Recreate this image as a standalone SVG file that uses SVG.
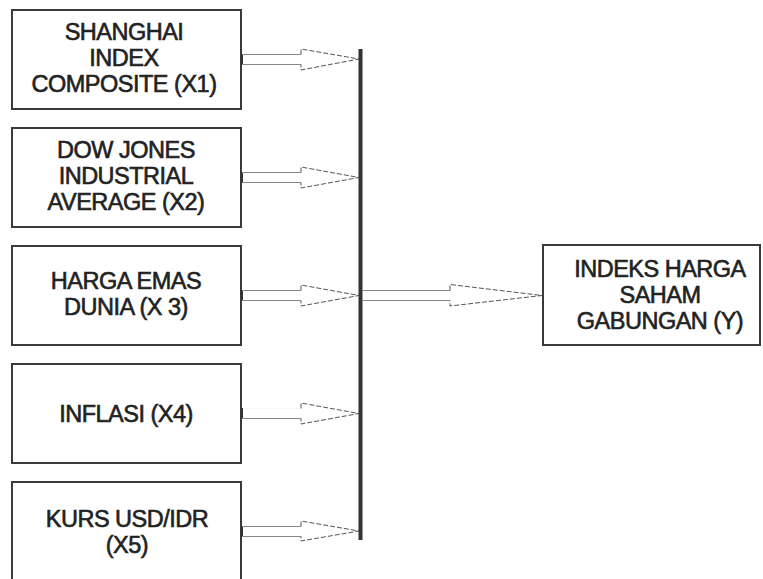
<svg xmlns="http://www.w3.org/2000/svg" width="763" height="579" viewBox="0 0 763 579">
<style>
.box{fill:#fff;stroke:#3a3a3a;stroke-width:2}
.lbl{font-family:"Liberation Sans",Arial,sans-serif;font-size:23.5px;fill:#222;stroke:#222;stroke-width:0.6px;text-anchor:middle;letter-spacing:-0.5px}
.shaft{stroke:#888;stroke-width:1;fill:none}
.head{stroke:#555;stroke-width:1;fill:none;stroke-dasharray:5 2}
.tick{fill:#333}
</style>
<rect width="763" height="579" fill="#fff"/>
<g id="x1">
<rect class="box" x="12" y="10" width="229" height="99"/>
<text class="lbl" x="124" y="39.5">SHANGHAI</text>
<text class="lbl" x="124" y="65.5">INDEX</text>
<text class="lbl" x="124" y="91.5">COMPOSITE (X1)</text>
</g>
<g id="x2">
<rect class="box" x="12" y="128" width="229" height="99"/>
<text class="lbl" x="126" y="157.5">DOW JONES</text>
<text class="lbl" x="126" y="183.5">INDUSTRIAL</text>
<text class="lbl" x="126" y="209.5">AVERAGE (X2)</text>
</g>
<g id="x3">
<rect class="box" x="12" y="246" width="229" height="99"/>
<text class="lbl" x="126" y="288.5">HARGA EMAS</text>
<text class="lbl" x="126" y="314.5">DUNIA (X 3)</text>
</g>
<g id="x4">
<rect class="box" x="12" y="364" width="229" height="99"/>
<text class="lbl" x="126" y="421.5">INFLASI (X4)</text>
</g>
<g id="x5">
<rect class="box" x="12" y="482" width="229" height="110"/>
<text class="lbl" x="127" y="527">KURS USD/IDR</text>
<text class="lbl" x="127" y="553">(X5)</text>
</g>
<g id="y">
<rect class="box" x="543" y="245" width="217" height="100"/>
<text class="lbl" x="660" y="276.5">INDEKS HARGA</text>
<text class="lbl" x="660" y="302.5">SAHAM</text>
<text class="lbl" x="660" y="328.5">GABUNGAN (Y)</text>
</g>
<g id="connectors">
<rect x="358.5" y="49" width="4" height="491" fill="#333"/>
<g id="a1">
<rect class="tick" x="241" y="54" width="2" height="10"/>
<path class="shaft" d="M242,54.5H301M242,64.5H301"/>
<path class="head" d="M301,54.5V49L359,59L301,70V64.5"/>
</g>
<g id="a2">
<rect class="tick" x="241" y="172" width="2" height="10"/>
<path class="shaft" d="M242,172.5H301M242,182.5H301"/>
<path class="head" d="M301,172.5V167L359,177.5L301,188V182.5"/>
</g>
<g id="a3">
<rect class="tick" x="241" y="290" width="2" height="10"/>
<path class="shaft" d="M242,290.5H301M242,300.5H301"/>
<path class="head" d="M301,290.5V285L359,295.5L301,306V300.5"/>
</g>
<g id="a4">
<rect class="tick" x="241" y="408" width="2" height="10"/>
<path class="shaft" d="M242,418.5H301"/>
<path class="shaft" d="M242,408.5H301" stroke-opacity="0.08"/>
<path class="head" d="M301,408.5V403L359,413.5L301,424V418.5"/>
</g>
<g id="a5">
<rect class="tick" x="241" y="526" width="2" height="10"/>
<path class="shaft" d="M242,526.5H301M242,536.5H301"/>
<path class="head" d="M301,526.5V521L359,531L301,541V536.5"/>
</g>
<g id="a6">
<path class="shaft" d="M362,290.5H450M362,300.5H450"/>
<path class="head" d="M450,290.5V284.5L542,295.5L450,306V300.5"/>
</g>
</g>
</svg>
